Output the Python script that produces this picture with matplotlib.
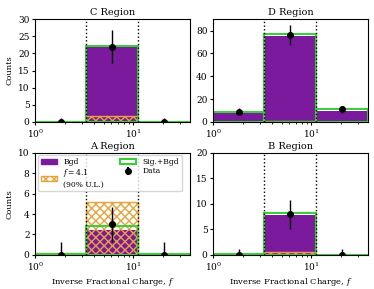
import numpy as np
import matplotlib as mpl
mpl.use('Agg')
import matplotlib.pyplot as plt
from matplotlib.patches import Patch

mpl.rcParams['font.family'] = 'serif'
mpl.rcParams['font.serif'] = ['DejaVu Serif']
mpl.rcParams['mathtext.fontset'] = 'dejavuserif'
mpl.rcParams['font.size'] = 6
mpl.rcParams['xtick.labelsize'] = 6.5
mpl.rcParams['ytick.labelsize'] = 6.5
mpl.rcParams['xtick.major.size'] = 2.5
mpl.rcParams['ytick.major.size'] = 2.5
mpl.rcParams['xtick.minor.size'] = 1.5
mpl.rcParams['xtick.major.pad'] = 1.5
mpl.rcParams['ytick.major.pad'] = 1.5
mpl.rcParams['hatch.linewidth'] = 1.0

purple = '#7b1a9c'
green = '#3ccf3c'
orange = '#e8a33d'

edges = [1.0, 3.3, 11.1, 38.0]
centers = [1.82, 6.05, 20.5]

regions = ['C', 'D', 'A', 'B']
bgd = {'C': [0.05, 21.8, 0.05], 'D': [8.2, 75.4, 10.0],
       'A': [0.02, 2.4, 0.02], 'B': [0.02, 7.9, 0.02]}
sig_bgd = {'C': [0.1, 22.2, 0.1], 'D': [8.8, 76.6, 11.4],
           'A': [0.12, 2.85, 0.05], 'B': [0.1, 8.3, 0.05]}
signal = {'C': [0.1, 1.75, 0.02], 'D': [0.1, 1.0, 0.05],
          'A': [0.17, 5.2, 0.02], 'B': [0.05, 0.65, 0.02]}
data = {'C': [0, 22, 0], 'D': [9, 76, 11], 'A': [0, 3, 0], 'B': [0, 8, 0]}
ylims = {'C': 30, 'D': 90, 'A': 10, 'B': 20}
yticks = {'C': [0, 5, 10, 15, 20, 25, 30], 'D': [0, 20, 40, 60, 80],
          'A': [0, 2, 4, 6, 8, 10], 'B': [0, 5, 10, 15, 20]}

fig = plt.figure(figsize=(3.74, 2.89), dpi=100)
pos = {'C': [0.094, 0.578, 0.414, 0.356], 'D': [0.570, 0.578, 0.414, 0.356],
       'A': [0.094, 0.118, 0.414, 0.353], 'B': [0.570, 0.118, 0.414, 0.353]}

lefts = np.array(edges[:-1])
widths = np.diff(edges)

for r in regions:
    ax = fig.add_axes(pos[r])
    ax.bar(lefts, bgd[r], width=widths, align='edge', color=purple, lw=0)
    ax.bar(lefts, signal[r], width=widths, align='edge', facecolor='none',
           edgecolor=orange, hatch='xxxx', lw=1.0)
    ax.bar(lefts, sig_bgd[r], width=widths, align='edge', facecolor='none',
           edgecolor=green, lw=1.5)
    for e in edges[1:-1]:
        ax.axvline(e, color='black', ls=':', lw=1.0, zorder=1.5)
    d = np.array(data[r], dtype=float)
    lo = np.where(d > 0, np.sqrt(d), 0.0)
    hi = np.where(d > 0, np.sqrt(d), 1.25)
    ax.errorbar(centers, d, yerr=[lo, hi], fmt='o', color='black',
                ms=4, lw=1.0, zorder=5)
    ax.set_xscale('log')
    ax.set_xlim(edges[0], edges[-1])
    ax.set_ylim(0, ylims[r])
    ax.set_yticks(yticks[r])
    ax.set_title(r + ' Region', fontsize=7, pad=3)
    if r in ('C', 'A'):
        ax.set_ylabel('Counts', labelpad=3)
    if r in ('A', 'B'):
        ax.set_xlabel('Inverse Fractional Charge, $f$', labelpad=2.5)
    if r == 'A':
        h_bgd = Patch(facecolor=purple, edgecolor=purple)
        h_sig = Patch(facecolor='none', edgecolor=orange, hatch='xxxx', lw=1.0)
        h_sb = Patch(facecolor='none', edgecolor=green, lw=1.5)
        h_dat = ax.errorbar([], [], yerr=[], fmt='o', color='black', ms=4)
        ax.legend([h_bgd, h_sig, h_sb, h_dat],
                  ['Bgd', '$f = 4.1$\n(90% U.L.)', 'Sig.+Bgd', 'Data'],
                  ncol=2, fontsize=5.5, loc='upper left',
                  bbox_to_anchor=(0.021, 0.978, 0.925, 0), mode='expand',
                  borderaxespad=0, framealpha=0.8, handlelength=2.1,
                  handleheight=0.6, labelspacing=0.2, borderpad=0.35)

fig.savefig('out.png', dpi=100)
